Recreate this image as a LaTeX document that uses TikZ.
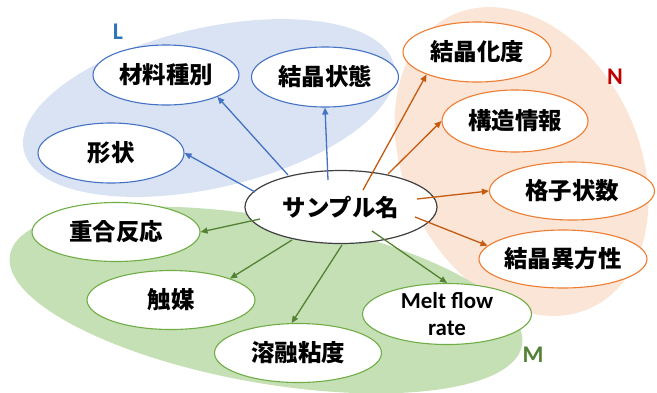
\documentclass[tikz,border=0pt]{standalone}
\usepackage{fontspec}
\newfontfamily\jp{Noto Sans CJK JP}
\newfontfamily\lat{Carlito}
\usetikzlibrary{shapes.geometric,arrows.meta}
\definecolor{bfill}{HTML}{DAE3F3}
\definecolor{ofill}{HTML}{FBE5D6}
\definecolor{gfill}{HTML}{C5E0B4}
\definecolor{bline}{HTML}{4472C4}
\definecolor{oline}{HTML}{ED7D31}
\definecolor{gline}{HTML}{70AD47}
\definecolor{barr}{HTML}{4472C4}
\definecolor{oarr}{HTML}{C55A11}
\definecolor{garr}{HTML}{548235}
\definecolor{lcol}{HTML}{2E75B6}
\definecolor{ncol}{HTML}{C00000}
\definecolor{mcol}{HTML}{548235}
\tikzset{
  item/.style={ellipse, fill=white, line width=1.1bp, inner sep=0pt,
    font=\jp\bfseries\fontsize{23.5}{27}\selectfont, text=black},
  bitem/.style={item, draw=bline},
  oitem/.style={item, draw=oline},
  gitem/.style={item, draw=gline},
  arr/.style={line width=1.3bp, -{Triangle[length=7bp,width=6bp]}},
  barrow/.style={arr, draw=barr, fill=barr},
  oarrow/.style={arr, draw=oarr, fill=oarr},
  garrow/.style={arr, draw=garr, fill=garr},
  grouplabel/.style={font=\lat\bfseries\fontsize{24}{27}\selectfont}
}
\begin{document}
\begin{tikzpicture}[x=1bp,y=-1bp]
\useasboundingbox (0,0) rectangle (657,392);
% group backgrounds
\fill[ofill, rotate around={-64:(521.5,161.5)}] (521.5,161.5) ellipse [x radius=162bp, y radius=117bp];
\fill[gfill, rotate around={-10:(266,300)}] (266,300) ellipse [x radius=260bp, y radius=83bp];
\fill[bfill, rotate around={13:(209,108)}] (209,108) ellipse [x radius=190bp, y radius=80bp];
% group labels
\node[grouplabel, text=lcol] (lL) at (118,32) {L};
\node[grouplabel, text=ncol] (lN) at (615,77) {N};
\node[grouplabel, text=mcol] (lM) at (533,355) {M};
% blue items
\node[bitem, minimum width=146bp, minimum height=60bp] (mat) at (166,75) {材料種別};
\node[bitem, minimum width=147bp, minimum height=60bp] (cs) at (325,77) {結晶状態};
\node[bitem, minimum width=146bp, minimum height=60bp] (sh) at (111,153) {形状};
% orange items
\node[oitem, minimum width=148bp, minimum height=60bp] (kd) at (477,52) {結晶化度};
\node[oitem, minimum width=146bp, minimum height=62bp] (kz) at (515,121) {構造情報};
\node[oitem, minimum width=165bp, minimum height=58bp] (ks) at (572,191) {格子状数};
\node[oitem, minimum width=168bp, minimum height=58bp] (ih) at (563,259) {結晶異方性};
% green items
\node[gitem, minimum width=168bp, minimum height=59bp] (jr) at (116,232) {重合反応};
\node[gitem, minimum width=168bp, minimum height=59bp] (sb) at (171,300) {触媒};
\node[gitem, minimum width=167bp, minimum height=59bp] (ym) at (298,353) {溶融粘度};
\node[gitem, minimum width=169bp, minimum height=58bp, align=center,
  font=\lat\bfseries\fontsize{23}{27}\selectfont] (mf) at (447,314) {Melt flow\\rate};
% centre
\node[item, draw=black!75, line width=1.2bp, minimum width=192bp, minimum height=73bp] (c) at (341,207) {サンプル名};
% arrow start points inside the centre node
\coordinate (b1) at (255,192);
\coordinate (b2) at (288,175);
\coordinate (b3) at (328,180);
\coordinate (o1) at (363,190);
\coordinate (o2) at (388,174);
\coordinate (o3) at (417,199);
\coordinate (o4) at (415,217);
\coordinate (g1) at (260,219);
\coordinate (g2) at (292,240);
\coordinate (g3) at (342,245);
\coordinate (g4) at (372,231);
% connectors
\draw[barrow] (b1) -- (sh.east);
\draw[barrow] (b2) -- (mat.-23);
\draw[barrow] (b3) -- (cs.south);
\draw[oarrow] (o1) -- (kd.-156);
\draw[oarrow] (o2) -- (kz.west);
\draw[oarrow] (o3) -- (ks.west);
\draw[oarrow] (o4) -- (ih.170);
\draw[garrow] (g1) -- (jr.east);
\draw[garrow] (g2) -- (sb.20);
\draw[garrow] (g3) -- (ym.102);
\draw[garrow] (g4) -- (mf.north);
\end{tikzpicture}
\end{document}
